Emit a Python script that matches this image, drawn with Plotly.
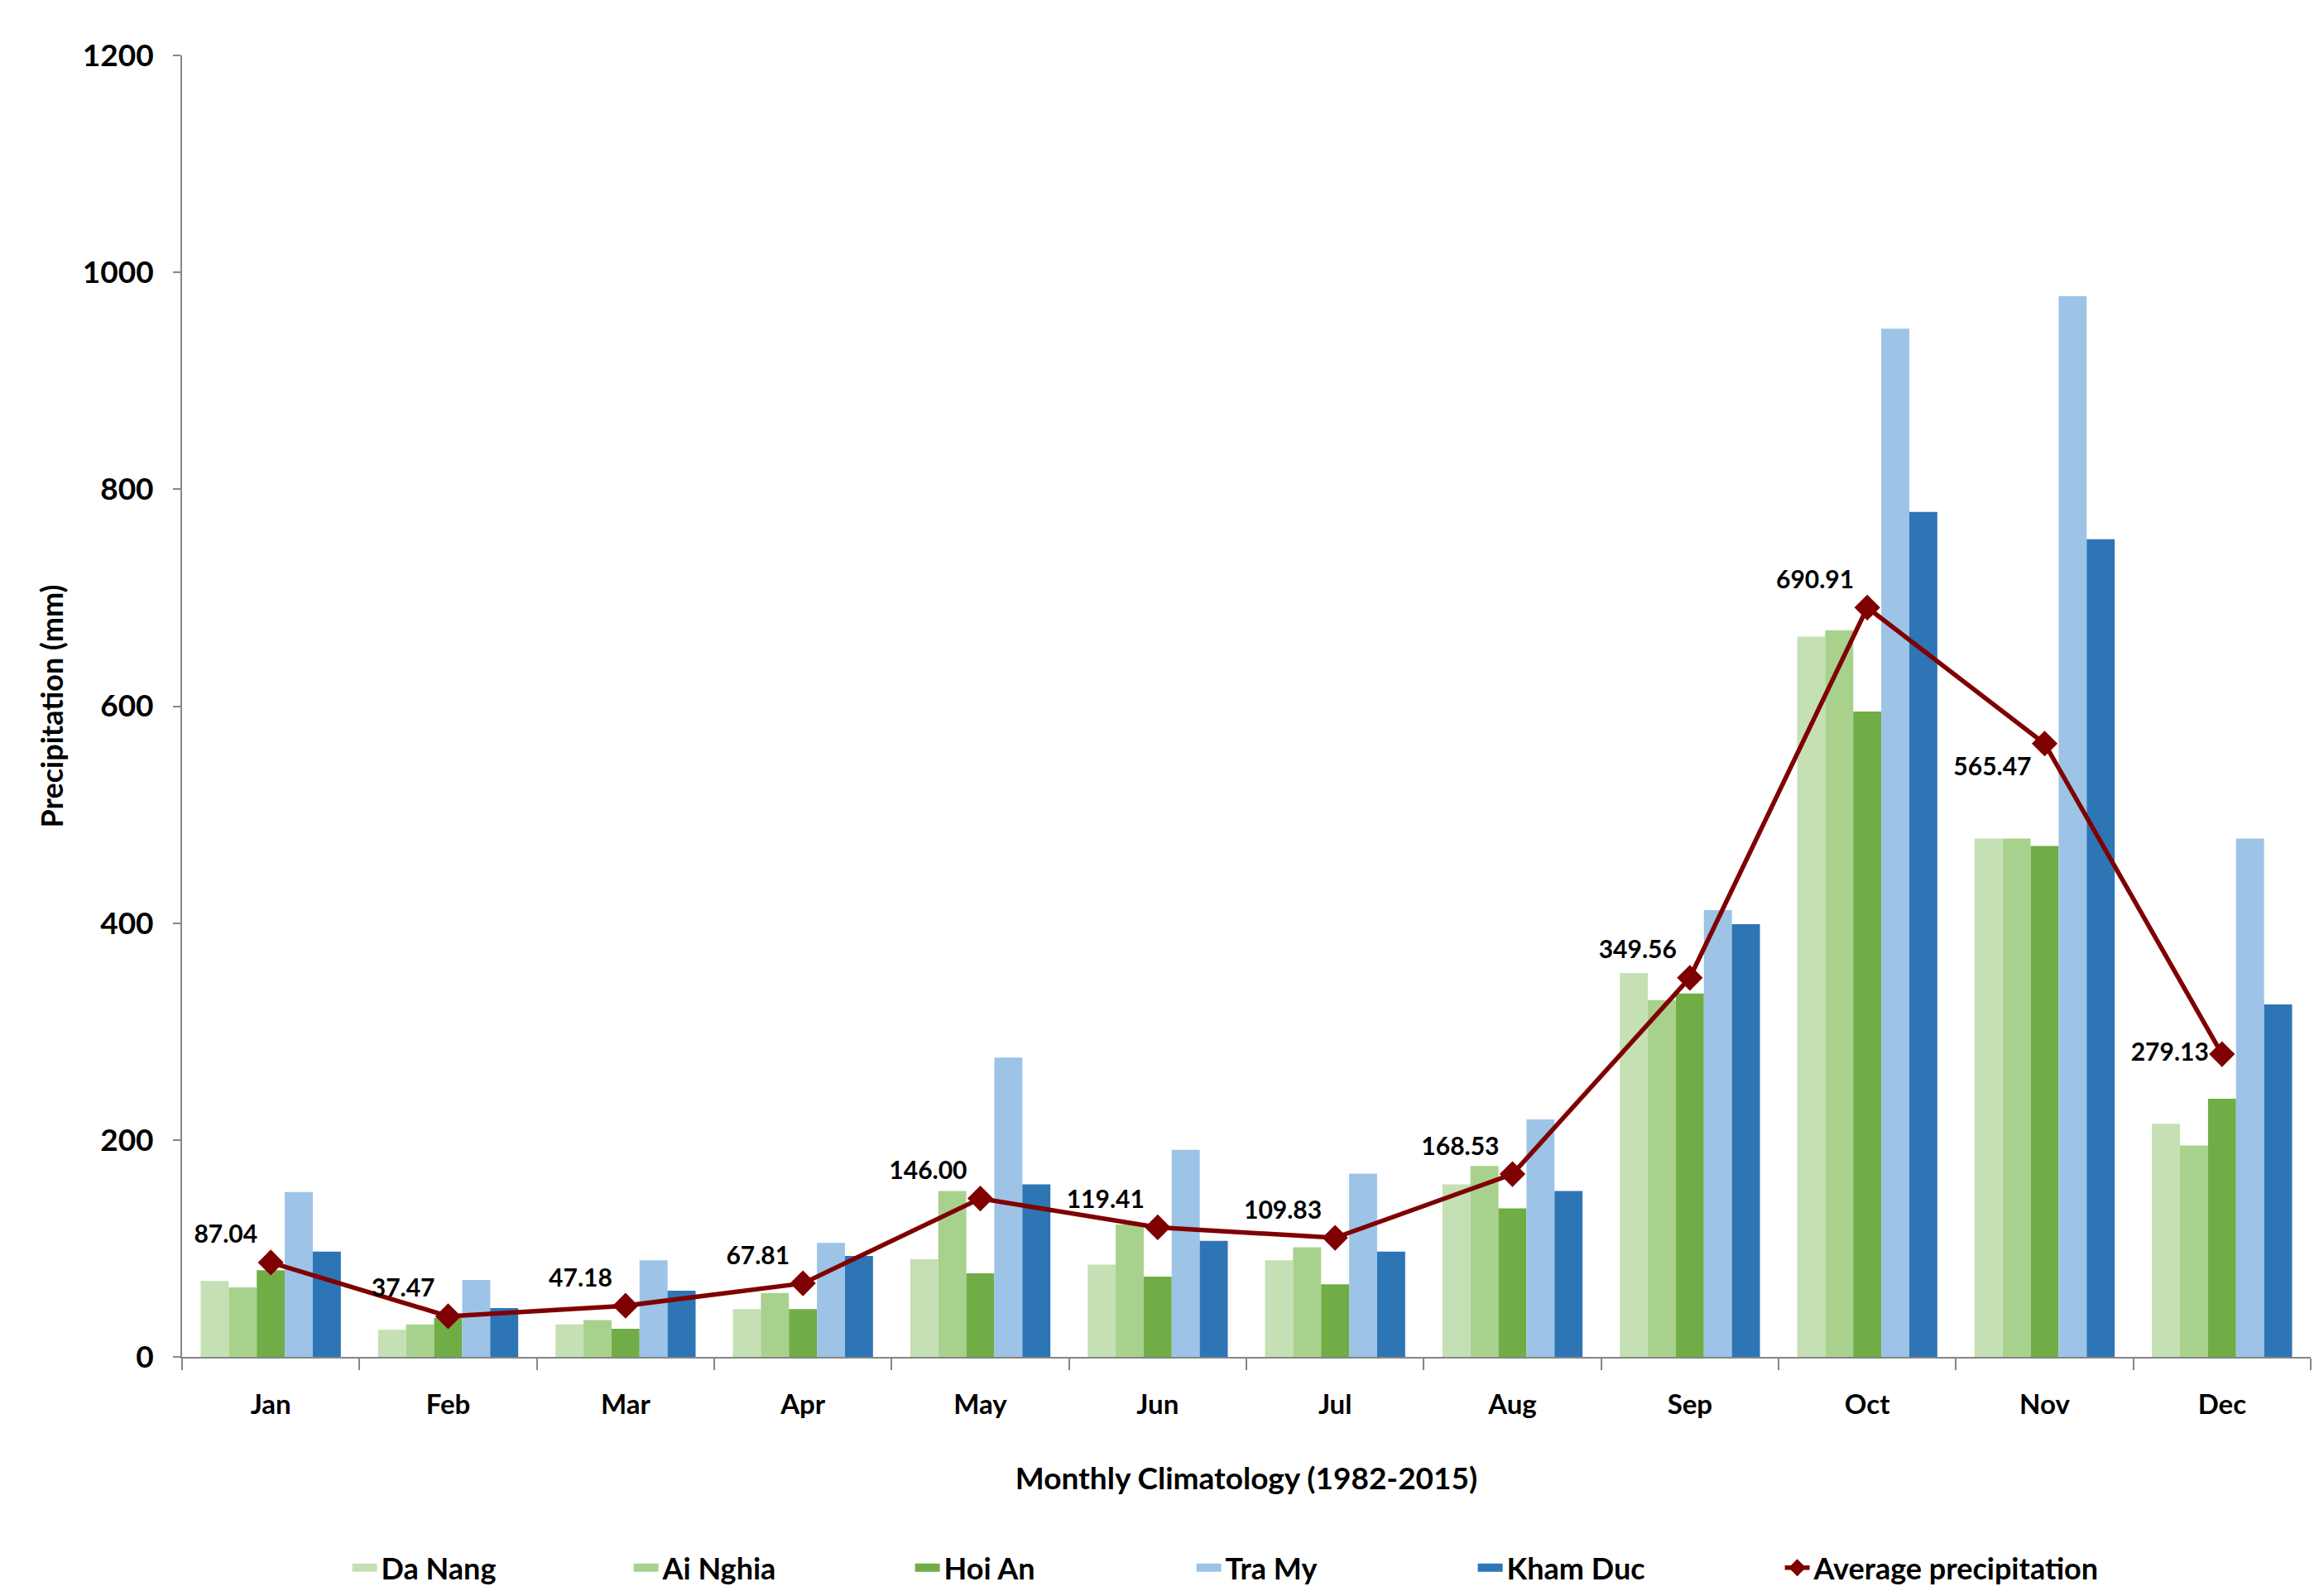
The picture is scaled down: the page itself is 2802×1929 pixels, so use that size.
import plotly.graph_objects as go

months = ["Jan", "Feb", "Mar", "Apr", "May", "Jun", "Jul", "Aug", "Sep", "Oct", "Nov", "Dec"]

da_nang = [70, 25, 30, 44, 90, 85, 89, 159, 354, 664, 478, 215]
ai_nghia = [64, 30, 34, 59, 153, 122, 101, 176, 329, 670, 478, 195]
hoi_an = [80, 36, 26, 44, 77, 74, 67, 137, 335, 595, 471, 238]
tra_my = [152, 71, 89, 105, 276, 191, 169, 219, 412, 948, 978, 478]
kham_duc = [97, 45, 61, 93, 159, 107, 97, 153, 399, 779, 754, 325]
average = [87.04, 37.47, 47.18, 67.81, 146.00, 119.41, 109.83, 168.53, 349.56, 690.91, 565.47, 279.13]
avg_text_pos = ["top left"] * 10 + ["bottom left", "middle left"]

series = [
    ("Da Nang", da_nang, "#C5E0B4"),
    ("Ai Nghia", ai_nghia, "#A9D18E"),
    ("Hoi An", hoi_an, "#70AD47"),
    ("Tra My", tra_my, "#9DC3E6"),
    ("Kham Duc", kham_duc, "#2E75B6"),
]

FONT = "Lato, 'Open Sans', 'DejaVu Sans', sans-serif"
LEGEND_FONT = dict(family=FONT, size=36, color="black", weight="bold")

fig = go.Figure()
for name, vals, color in series:
    fig.add_trace(go.Bar(x=months, y=vals, name=name, showlegend=False,
                         marker=dict(color=color, line=dict(width=0))))

# legend-only swatches (wide rectangles like the original legend)
for name, vals, color in series:
    fig.add_trace(go.Scatter(x=[months[0]], y=[None], name=name, mode="lines",
                             line=dict(color=color, width=14), legend="legend",
                             hoverinfo="skip"))

fig.add_trace(go.Scatter(
    x=months, y=average, name="Average precipitation",
    mode="lines+markers+text",
    line=dict(color="#7F0000", width=5.5),
    marker=dict(symbol="diamond", size=24, color="#7F0000"),
    text=[f"{v:.2f}" for v in average],
    textposition=avg_text_pos,
    textfont=dict(family=FONT, size=30, color="black", weight="bold"),
    legend="legend2",
))

fig.update_layout(
    width=2802, height=1929,
    paper_bgcolor="white", plot_bgcolor="white",
    margin=dict(l=212, r=18, t=59, b=293),
    barmode="group", bargap=0.21, bargroupgap=0,
    font=dict(family=FONT, color="black", weight="bold"),
    showlegend=True,
    legend=dict(
        orientation="h", x=0.078, xanchor="left", y=-0.162, yanchor="middle",
        font=LEGEND_FONT, entrywidth=295, itemwidth=30, traceorder="normal",
        bgcolor="rgba(0,0,0,0)",
    ),
    legend2=dict(
        orientation="h", x=0.751, xanchor="left", y=-0.162, yanchor="middle",
        font=LEGEND_FONT, itemwidth=30, bgcolor="rgba(0,0,0,0)",
    ),
)

fig.update_xaxes(
    type="category", range=[-0.5, 11.5],
    showline=True, linecolor="#868686", linewidth=2,
    ticks="outside", tickson="boundaries", ticklen=14, tickcolor="#868686", tickwidth=2,
    tickfont=dict(family=FONT, size=33, color="black", weight="bold"),
    ticklabelstandoff=27,
    showgrid=False, zeroline=False,
    title=dict(text="Monthly Climatology (1982-2015)", standoff=60,
               font=dict(family=FONT, size=37, color="black", weight="bold")),
)
fig.update_yaxes(
    range=[0, 1200], dtick=200, tick0=0,
    showline=True, linecolor="#868686", linewidth=2,
    ticks="outside", ticklen=9, tickcolor="#868686", tickwidth=2,
    tickfont=dict(family=FONT, size=37, color="black", weight="bold"),
    ticklabelstandoff=16,
    showgrid=False, zeroline=False,
    title=dict(text="Precipitation (mm)", standoff=12,
               font=dict(family=FONT, size=36, color="black", weight="bold")),
)

fig.write_html("out.html")
